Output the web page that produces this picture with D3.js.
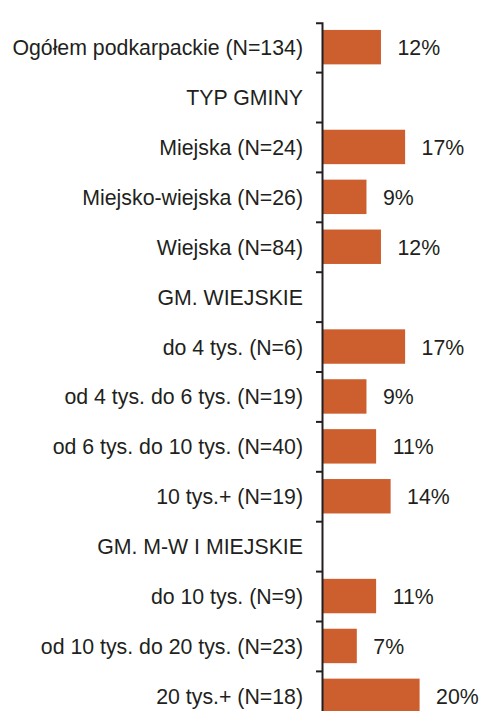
<!DOCTYPE html>
<html>
<head>
<meta charset="utf-8">
<script src="https://cdn.jsdelivr.net/npm/d3@7"></script>
<style>
  html, body { margin: 0; padding: 0; background: #fff; }
  svg { display: block; }
  text { font-family: "Liberation Sans", Arial, Helvetica, sans-serif; fill: #231f20; }
</style>
</head>
<body>
<script>
// Rows of the chart, top to bottom; section headings have no value.
const categories = [
  "Ogółem podkarpackie (N=134)",
  "TYP GMINY",
  "Miejska (N=24)",
  "Miejsko-wiejska (N=26)",
  "Wiejska (N=84)",
  "GM. WIEJSKIE",
  "do 4 tys. (N=6)",
  "od 4 tys. do 6 tys. (N=19)",
  "od 6 tys. do 10 tys. (N=40)",
  "10 tys.+ (N=19)",
  "GM. M-W I MIEJSKIE",
  "do 10 tys. (N=9)",
  "od 10 tys. do 20 tys. (N=23)",
  "20 tys.+ (N=18)"
];
const values = [12, null, 17, 9, 12, null, 17, 9, 11, 14, null, 11, 7, 20];

const chartW = 479, chartH = 711;
const axisX = 322;
const plotTop = 22.7, rowStep = 49.9;
const fontSize = 21.3;

const svg = d3.select("body").append("svg")
  .attr("width", chartW).attr("height", chartH);

const y = d3.scaleBand()
  .domain(categories)
  .range([plotTop, plotTop + rowStep * categories.length])
  .padding(0);

const x = d3.scaleLinear()
  .domain([0, 32])
  .range([axisX + 1, axisX + 1 + 32 * 4.83]);

const barColor = "#cd5f2f";
const rows = categories.map((c, i) => ({ c, v: values[i] }));

// Bars
svg.append("g").selectAll("rect")
  .data(rows.filter(d => d.v != null))
  .join("rect")
  .attr("x", x(0))
  .attr("y", d => y(d.c) + y.bandwidth() * 0.145)
  .attr("width", d => x(d.v) - x(0))
  .attr("height", y.bandwidth() * 0.69)
  .attr("fill", barColor);

// Value labels
svg.append("g").selectAll("text")
  .data(rows.filter(d => d.v != null))
  .join("text")
  .attr("x", d => x(d.v) + 16.5)
  .attr("y", d => y(d.c) + y.bandwidth() / 2)
  .attr("dy", "0.35em")
  .attr("font-size", fontSize)
  .text(d => d.v + "%");

// Category axis: vertical line with ticks at band boundaries
const axisG = svg.append("g").attr("transform", `translate(${axisX},0)`);
const yAxis = d3.axisLeft(y).tickSize(0).tickSizeOuter(6).tickPadding(19);
axisG.call(yAxis);
axisG.select(".domain").attr("stroke", "#231f20").attr("stroke-width", 2);
axisG.selectAll(".tick text")
  .attr("font-size", fontSize)
  .attr("fill", "#231f20")
  .attr("font-family", "Liberation Sans, Arial, Helvetica, sans-serif")
  .attr("dy", "0.35em");

const boundaries = categories.slice(1).map(c => y(c));
axisG.append("g").selectAll("line")
  .data(boundaries)
  .join("line")
  .attr("x1", -6).attr("x2", 0)
  .attr("y1", d => d).attr("y2", d => d)
  .attr("stroke", "#231f20")
  .attr("stroke-width", 2);
</script>
</body>
</html>
